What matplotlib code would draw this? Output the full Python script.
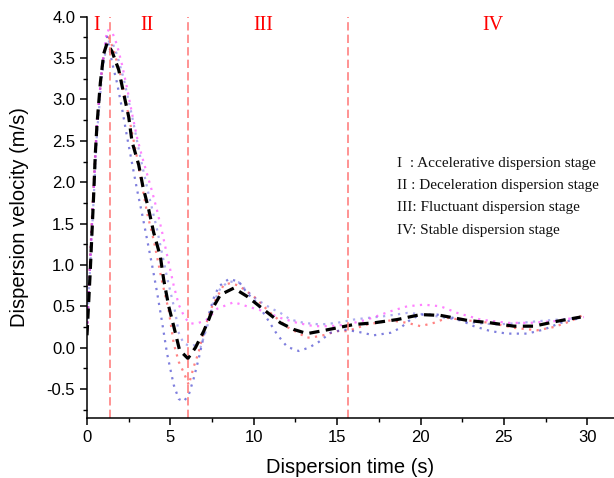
import numpy as np
import matplotlib
matplotlib.use('Agg')
import matplotlib.pyplot as plt
from matplotlib.ticker import MultipleLocator

# ---- data ----
t_mean = [0, 0.1, 0.2, 0.3, 0.4, 0.5, 0.6, 0.8, 1.0, 1.2, 1.5, 1.9, 2.2, 2.5, 2.7, 3.1, 3.35, 3.7,
          4.0, 4.4, 4.6, 4.9, 5.2, 5.55, 6.05, 6.5, 7.0, 7.3, 7.6, 8.0, 8.8, 9.6, 10.6, 11.6, 12.4,
          13.2, 14.0, 15.0, 16.0, 17.2, 18.6, 20.0, 21.2, 22.8, 24.2, 25.6, 26.8, 28.2, 29.6]
v_mean = [0.15, 0.55, 0.95, 1.4, 1.85, 2.35, 2.7, 3.2, 3.55, 3.68, 3.58, 3.36, 3.07, 2.79, 2.49, 2.21,
          1.95, 1.67, 1.39, 1.10, 0.82, 0.50, 0.26, -0.03, -0.13, 0.0, 0.2, 0.34, 0.50, 0.64, 0.72,
          0.62, 0.46, 0.30, 0.22, 0.17, 0.20, 0.24, 0.28, 0.30, 0.34, 0.40, 0.39, 0.33, 0.30, 0.26,
          0.26, 0.32, 0.37]

t_red = [0, 0.3, 0.6, 1.0, 1.3, 1.6, 2.0, 2.5, 3.0, 3.6, 4.0, 4.5, 4.9, 5.2, 5.5, 5.8, 6.1, 6.4, 6.7,
         7.0, 7.5, 8.2, 8.6, 9.1, 10.0, 11.0, 12.0, 13.2, 14.0, 15.0, 15.6, 16.8, 18.2, 19.2, 20.0,
         20.8, 21.6, 22.8, 24.2, 25.6, 27.0, 28.0, 29.0, 29.8]
v_red = [0.2, 1.6, 2.75, 3.55, 3.75, 3.6, 3.3, 2.8, 2.3, 1.63, 1.3, 0.8, 0.45, 0.05, -0.17, -0.3,
         -0.45, -0.23, -0.05, 0.2, 0.5, 0.76, 0.78, 0.75, 0.62, 0.42, 0.25, 0.12, 0.14, 0.2, 0.2,
         0.28, 0.33, 0.30, 0.26, 0.30, 0.36, 0.33, 0.30, 0.24, 0.21, 0.25, 0.32, 0.40]

t_blue = [0, 0.3, 0.6, 0.9, 1.2, 1.5, 1.8, 2.1, 2.4, 2.7, 3.0, 3.3, 3.6, 3.9, 4.2, 4.5, 4.8, 5.2,
          5.5, 5.8, 6.1, 6.4, 6.7, 7.0, 7.3, 7.6, 7.9, 8.5, 9.1, 9.6, 10.2, 10.9, 11.4, 12.0, 12.7,
          13.3, 13.9, 14.6, 15.4, 16.3, 17.2, 18.2, 18.8, 19.4, 20.0, 21.0, 22.2, 23.2, 24.2, 25.2,
          26.4, 27.4, 28.4, 29.6]
v_blue = [0.2, 1.5, 2.7, 3.4, 3.76, 3.45, 3.2, 2.89, 2.55, 2.23, 1.91, 1.62, 1.31, 1.0, 0.67, 0.31,
          -0.07, -0.45, -0.62, -0.65, -0.57, -0.37, -0.13, 0.14, 0.40, 0.60, 0.74, 0.83, 0.80, 0.66,
          0.54, 0.32, 0.16, 0.01, -0.04, 0.0, 0.07, 0.18, 0.22, 0.19, 0.15, 0.18, 0.24, 0.34, 0.40,
          0.40, 0.35, 0.26, 0.20, 0.17, 0.17, 0.22, 0.30, 0.36]

t_blue2 = [0, 0.3, 0.6, 0.9, 1.2, 1.5, 1.8, 2.2, 2.7, 3.2, 3.7, 4.2, 4.8, 5.3, 5.5, 5.8, 6.2, 6.4,
           6.8, 7.2, 7.6, 8.0, 8.5, 9.1, 9.6, 10.2, 11.0, 11.6, 12.2, 13.0, 14.0, 15.0, 16.0, 16.4,
           17.8, 19.2, 20.4, 21.8, 23.2, 24.6, 26.0, 27.6, 29.6]
v_blue2 = [0.25, 1.4, 2.6, 3.3, 3.7, 3.7, 3.54, 3.25, 2.8, 2.3, 1.85, 1.43, 0.85, 0.42, 0.18, 0.05,
           0.02, 0.03, 0.0, 0.25, 0.55, 0.72, 0.80, 0.79, 0.68, 0.58, 0.48, 0.42, 0.34, 0.30, 0.28,
           0.30, 0.34, 0.35, 0.38, 0.42, 0.40, 0.35, 0.30, 0.28, 0.30, 0.33, 0.36]

t_mag = [0, 0.3, 0.6, 0.9, 1.2, 1.5, 1.8, 2.1, 2.4, 2.7, 3.0, 3.3, 3.6, 3.9, 4.2, 4.5, 4.8, 5.2, 5.5,
         5.8, 6.1, 6.4, 6.7, 7.2, 7.8, 8.8, 9.6, 10.6, 11.6, 12.6, 13.6, 14.6, 15.6, 16.8, 18.2,
         19.2, 20.2, 21.2, 22.2, 23.6, 25.2, 26.6, 28.0, 29.2, 29.8]
v_mag = [0.2, 1.5, 2.7, 3.4, 3.84, 3.82, 3.66, 3.42, 3.14, 2.83, 2.54, 2.31, 2.10, 1.89, 1.66, 1.40,
         1.12, 0.75, 0.52, 0.39, 0.30, 0.29, 0.30, 0.34, 0.47, 0.55, 0.50, 0.44, 0.36, 0.30, 0.26,
         0.26, 0.28, 0.34, 0.44, 0.50, 0.52, 0.50, 0.42, 0.34, 0.30, 0.30, 0.32, 0.36, 0.37]

stage_bounds = [1.38, 6.08, 15.65]
stage_names = ['I', 'II', 'III', 'IV']
stage_name_x = [0.6, 3.6, 10.55, 24.35]
stage_notes = ['I  : Accelerative dispersion stage',
               'II : Deceleration dispersion stage',
               'III: Fluctuant dispersion stage',
               'IV: Stable dispersion stage']

TickSize = 12
LabelSize = 14.5

fig = plt.figure(figsize=(6.14, 4.78), dpi=100)
ax = fig.add_axes([0.1417, 0.1255, 0.8583, 0.8395])

dot = (0, (1, 2.4))
ax.plot(t_red, v_red, color='#ff4040', linestyle=dot, linewidth=1.6, alpha=0.65)
ax.plot(t_blue, v_blue, color='#3a3acc', linestyle=dot, linewidth=1.6, alpha=0.65)
ax.plot(t_blue2, v_blue2, color='#5a5ae0', linestyle=dot, linewidth=1.6, alpha=0.5)
ax.plot(t_mag, v_mag, color='#ff40ff', linestyle=dot, linewidth=1.6, alpha=0.65)
ax.plot(t_mean, v_mean, color='black', linestyle=(0, (3.2, 2)), linewidth=2.3)

for xb in stage_bounds:
    ax.axvline(xb, color='#ff8080', linestyle=(0, (5, 2.5)), linewidth=1.2)

for name, xn in zip(stage_names, stage_name_x):
    ax.text(xn, 3.89, name, color='red', fontsize=14.5, family='Liberation Serif',
            ha='center', va='center')

for k, note in enumerate(stage_notes):
    ax.text(18.6, 2.23 - 0.27 * k, note, fontsize=11, family='Liberation Serif',
            ha='left', va='center', color='#111111')

ax.set_xlim(0, 31.6)
ax.set_ylim(-0.85, 4.0)
ax.xaxis.set_major_locator(MultipleLocator(5))
ax.xaxis.set_minor_locator(MultipleLocator(2.5))
ax.yaxis.set_major_locator(MultipleLocator(0.5))
ax.yaxis.set_minor_locator(MultipleLocator(0.25))
ax.yaxis.set_major_formatter(lambda v, p: '%.1f' % v)
ax.xaxis.set_major_formatter(lambda v, p: '%d' % v)

for s in ['top', 'right']:
    ax.spines[s].set_visible(False)
for s in ['left', 'bottom']:
    ax.spines[s].set_linewidth(1.1)

ax.tick_params(which='major', direction='out', length=5, width=1.1, labelsize=TickSize)
ax.tick_params(which='minor', direction='out', length=3, width=1.0)
for lab in ax.get_xticklabels() + ax.get_yticklabels():
    lab.set_family('Liberation Sans')

ax.set_xlabel('Dispersion time (s)', fontsize=LabelSize, family='Liberation Sans')
ax.set_ylabel('Dispersion velocity (m/s)', fontsize=LabelSize, family='Liberation Sans')
ax.xaxis.set_label_coords(0.5, -0.10)
ax.yaxis.set_label_coords(-0.11, 0.5)

fig.savefig('out.png', dpi=100)
